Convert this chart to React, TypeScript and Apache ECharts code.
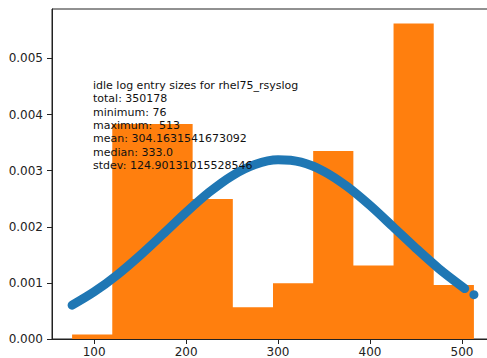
import React, { useEffect, useRef } from "react";
import * as echarts from "echarts";

const binEdges = [76, 119.7, 163.4, 207.1, 250.8, 294.5, 338.2, 381.9, 425.6, 469.3, 513];
const densities = [0.000079, 0.00383, 0.00383, 0.002495, 0.000566, 0.000995, 0.00335, 0.00131, 0.00562, 0.000964];

const curveX = [76, 100, 125, 150, 175, 200, 225, 250, 275, 300, 325, 350, 375, 400, 425, 450, 475, 503];
const curveY = [0.000602, 0.00084, 0.001142, 0.001491, 0.001871, 0.002256, 0.002613, 0.002908, 0.003108, 0.003192, 0.00315, 0.002986, 0.002719, 0.00238, 0.002, 0.001616, 0.001253, 0.000899];
const lastPoint = [513, 0.000789];

const xTicks = [100, 200, 300, 400, 500];
const yTicks = [0, 0.001, 0.002, 0.003, 0.004, 0.005];

const infoLines = [
  "idle log entry sizes for rhel75_rsyslog",
  "total: 350178",
  "minimum: 76",
  "maximum:  513",
  "mean: 304.1631541673092",
  "median: 333.0",
  "stdev: 124.90131015528546",
];

const FONT = "DejaVu Sans";

export default function App() {
  const ref = useRef<HTMLDivElement>(null);
  useEffect(() => {
    if (!ref.current) return;
    const chart = echarts.init(ref.current, null, { renderer: "svg" });
    chart.setOption({
      animation: false,
      backgroundColor: "#ffffff",
      grid: {
        left: 52,
        top: 9,
        right: -7,
        bottom: 19,
        containLabel: false,
        outerBoundsMode: "none",
        show: true,
        borderColor: "#222",
        borderWidth: 1,
        backgroundColor: "transparent",
      },
      xAxis: {
        type: "value",
        min: 54.15,
        max: 534.85,
        splitLine: { show: false },
        axisLine: { show: true, lineStyle: { color: "#222", width: 1 } },
        axisTick: {
          show: true,
          inside: false,
          length: 5,
          customValues: xTicks,
          lineStyle: { color: "#222" },
        },
        axisLabel: {
          customValues: xTicks,
          margin: 7,
          color: "#222",
          fontSize: 12,
          fontFamily: FONT,
          formatter: (v: number) => String(Math.round(v)),
        },
      },
      yAxis: {
        type: "value",
        min: 0,
        max: 0.00588,
        splitLine: { show: false },
        axisLine: { show: true, lineStyle: { color: "#222", width: 1 } },
        axisTick: {
          show: true,
          inside: false,
          length: 5,
          customValues: yTicks,
          lineStyle: { color: "#222" },
        },
        axisLabel: {
          customValues: yTicks,
          margin: 9,
          color: "#222",
          fontSize: 12,
          fontFamily: FONT,
          formatter: (v: number) => v.toFixed(3),
        },
      },
      series: [
        {
          type: "custom",
          z: 1,
          encode: { x: 0, y: 1 },
          data: [[binEdges[0], 0]],
          renderItem: (params: any, api: any) => {
            const pts: number[][] = [api.coord([binEdges[0], 0])];
            densities.forEach((d, i) => {
              pts.push(api.coord([binEdges[i], d]));
              pts.push(api.coord([binEdges[i + 1], d]));
            });
            pts.push(api.coord([binEdges[binEdges.length - 1], 0]));
            return {
              type: "polygon",
              shape: { points: pts },
              style: { fill: "#ff7f0e" },
            };
          },
        },
        {
          type: "line",
          z: 3,
          showSymbol: false,
          symbol: "none",
          smooth: 0.3,
          data: curveX.map((x, i) => [x, curveY[i]]),
          lineStyle: { color: "#1f77b4", width: 9, cap: "round", join: "round" },
        },
        {
          type: "scatter",
          z: 3,
          symbolSize: 9,
          data: [lastPoint],
          itemStyle: { color: "#1f77b4", opacity: 1 },
        },
      ],
      graphic: [
        {
          type: "text",
          left: 93,
          top: 79,
          z: 100,
          style: {
            text: infoLines.join("\n"),
            fontSize: 11,
            fontFamily: FONT,
            lineHeight: 13.33,
            fill: "#111",
          },
        },
      ],
    });
    return () => chart.dispose();
  }, []);
  return (
    <div
      ref={ref}
      style={{ position: "fixed", left: 0, top: 0, width: 487, height: 358, background: "#fff" }}
    />
  );
}
